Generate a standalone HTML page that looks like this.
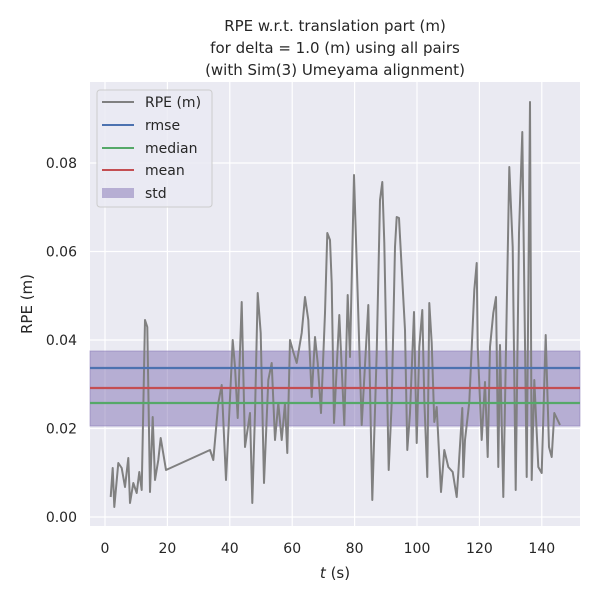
<!DOCTYPE html>
<html><head><style>body{margin:0;background:#fff}svg{display:block}text{font-family:"DejaVu Sans","Liberation Sans",sans-serif;fill:#262626}</style></head><body>
<svg width="600" height="600" xmlns="http://www.w3.org/2000/svg">
<rect x="90" y="82" width="490" height="444" fill="#eaeaf2"/>
<g stroke="#fff" stroke-width="1.2">
<line x1="105" y1="82" x2="105" y2="526"/><line x1="167.4" y1="82" x2="167.4" y2="526"/><line x1="229.8" y1="82" x2="229.8" y2="526"/><line x1="292.2" y1="82" x2="292.2" y2="526"/><line x1="354.6" y1="82" x2="354.6" y2="526"/><line x1="417" y1="82" x2="417" y2="526"/><line x1="479.4" y1="82" x2="479.4" y2="526"/><line x1="541.8" y1="82" x2="541.8" y2="526"/>
<line x1="90" y1="517" x2="580" y2="517"/><line x1="90" y1="428.5" x2="580" y2="428.5"/><line x1="90" y1="340" x2="580" y2="340"/><line x1="90" y1="251.5" x2="580" y2="251.5"/><line x1="90" y1="163" x2="580" y2="163"/>
</g>
<rect x="90" y="351" width="490" height="75" fill="#8172b3" fill-opacity="0.5" stroke="#8172b3" stroke-opacity="0.5"/>
<polyline fill="none" stroke="#808080" stroke-width="2" stroke-linejoin="round" points="110.7,497 112.7,468 114.3,507 118.3,463 121.7,468 125,487 128.3,458 130,503 133.3,483 136.7,493 139.3,472 141.7,490 145,320 147.3,327 150,492 152.7,417 155,480 158.3,460 160.7,438 166,470 210,450 213.3,460 218.3,403 221.7,385 226,480 229.3,413 232.7,340 235,367 237.7,418 241.7,302 245,447 250,413 252.3,503 255,413 257.7,293 260.7,333 264,483 268.3,380 271.7,363 275,440 278.3,403 281.7,440 285,403 287.3,453 290,340 293.3,352 296.7,363 301.7,333 305,297 308.3,320 311.7,397 315,337 317.7,363 321,413 325,313 327.3,233 330,240 331.7,283 334,423 339.3,315 344.3,425 347.7,295 350,357 354,175 361.7,425 368.3,305 372.3,500 376.7,353 380,200 382.3,182 384.3,243 388.7,470 391.7,403 395,247 396.7,217 399,218 405,330 407.3,450 410,413 414,312 416.7,443 419.3,347 422.3,310 424.3,400 427.3,477 429.3,303 431.7,343 434.3,422 436.7,407 441,492 444.3,450 448.3,467 452.7,472 456.7,497 458.3,473 462.3,408 463.3,477 465,440 469.3,402 474.3,290 476.7,263 477.7,347 481.7,440 485,382 487.7,457 490,347 493.3,313 496,297 498.3,467 500,345 503.3,497 509.3,167 512.7,247 515.7,490 519,233 522.3,132 526.7,477 530,102 531.7,480 534.3,380 538.3,467 541.7,473 545.7,335 549,447 551.7,457 554.3,413 560,425"/>
<line x1="90" y1="368" x2="580" y2="368" stroke="#4c72b0" stroke-width="2.2"/>
<line x1="90" y1="388" x2="580" y2="388" stroke="#c44e52" stroke-width="2.2"/>
<line x1="90" y1="403" x2="580" y2="403" stroke="#55a868" stroke-width="2.2"/>
<rect x="97" y="90" width="115" height="117" rx="3" fill="#eaeaf2" fill-opacity="0.8" stroke="#ccc"/>
<line x1="102" y1="102" x2="134" y2="102" stroke="#808080" stroke-width="2"/>
<line x1="102" y1="125" x2="134" y2="125" stroke="#4c72b0" stroke-width="2"/>
<line x1="102" y1="148" x2="134" y2="148" stroke="#55a868" stroke-width="2"/>
<line x1="102" y1="170" x2="134" y2="170" stroke="#c44e52" stroke-width="2"/>
<rect x="102" y="188" width="32" height="10" fill="#8172b3" fill-opacity="0.5"/>
<g font-size="14"><text x="145" y="107">RPE (m)</text><text x="145" y="130">rmse</text><text x="145" y="153">median</text><text x="145" y="175">mean</text><text x="145" y="198">std</text></g>
<g font-size="14" text-anchor="middle"><text x="105" y="553">0</text><text x="167.4" y="553">20</text><text x="229.8" y="553">40</text><text x="292.2" y="553">60</text><text x="354.6" y="553">80</text><text x="417" y="553">100</text><text x="479.4" y="553">120</text><text x="541.8" y="553">140</text></g>
<g font-size="14" text-anchor="end"><text x="77" y="522">0.00</text><text x="77" y="433.5">0.02</text><text x="77" y="345">0.04</text><text x="77" y="256.5">0.06</text><text x="77" y="168">0.08</text></g>
<text x="335" y="578" font-size="15" text-anchor="middle"><tspan font-style="italic">t</tspan> (s)</text>
<text transform="translate(32,304) rotate(-90)" font-size="15" text-anchor="middle">RPE (m)</text>
<g font-size="15" text-anchor="middle"><text x="335" y="31">RPE w.r.t. translation part (m)</text><text x="335" y="53">for delta = 1.0 (m) using all pairs</text><text x="335" y="75">(with Sim(3) Umeyama alignment)</text></g>
</svg></body></html>
